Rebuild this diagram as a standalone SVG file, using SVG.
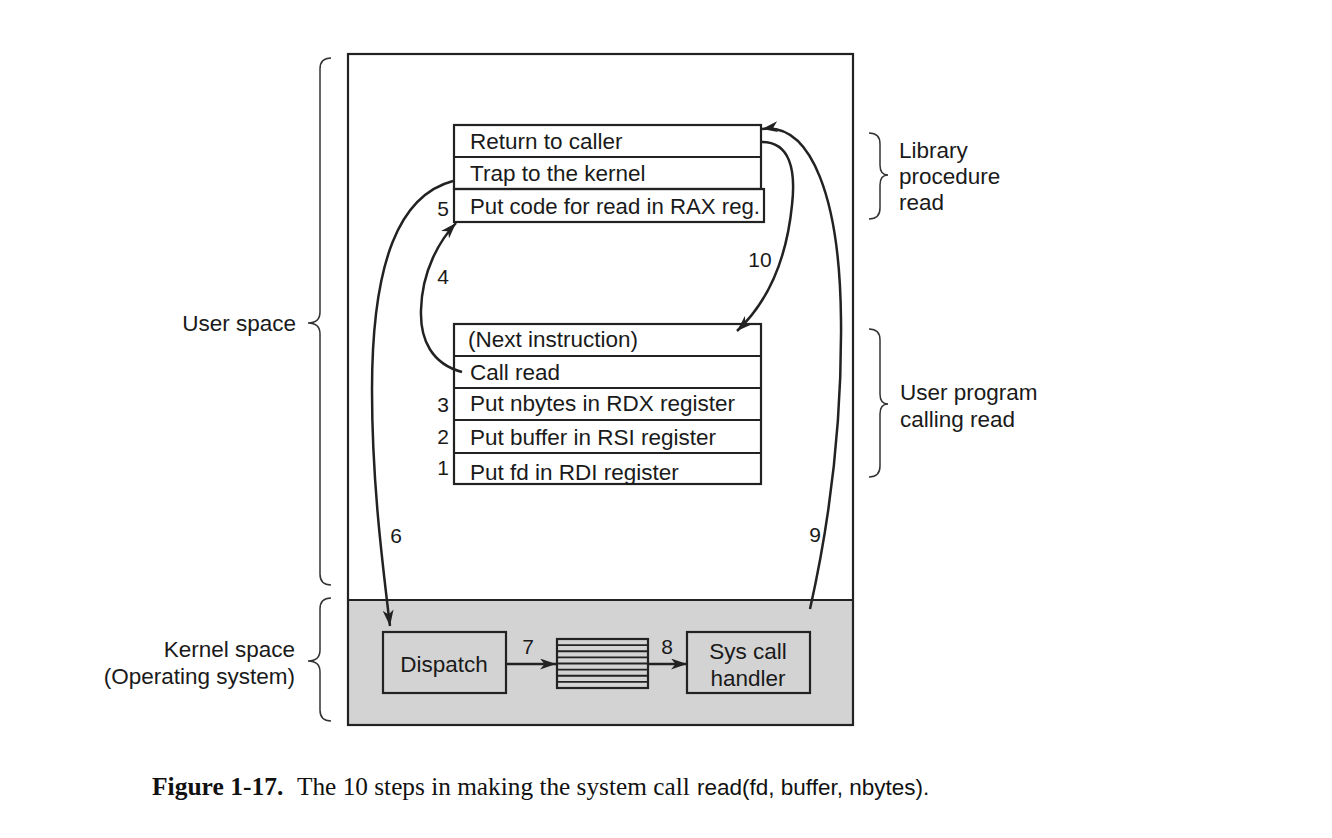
<svg xmlns="http://www.w3.org/2000/svg" width="1332" height="838" viewBox="0 0 1332 838">
<style>
.box{fill:none;stroke:#222;stroke-width:2.2}
.ln{fill:none;stroke:#222;stroke-width:2.5}
.br{fill:none;stroke:#333;stroke-width:1.5}
.t{font-family:"Liberation Sans",Arial,sans-serif;font-size:22.5px;fill:#1a1a1a}
.n{font-family:"Liberation Sans",Arial,sans-serif;font-size:21px;fill:#1a1a1a}
.m{text-anchor:middle}
.e{text-anchor:end}
</style>
<defs>
<marker id="ah" markerUnits="userSpaceOnUse" markerWidth="17" markerHeight="11" refX="16" refY="5.5" orient="auto">
<path d="M0,0 L16,5.5 L0,11 L4.5,5.5 z" fill="#222"/>
</marker>
</defs>
<rect width="1332" height="838" fill="#fff"/>
<g id="outer">
<rect x="348" y="600" width="505" height="125" fill="#d3d3d3"/>
<rect x="348" y="54" width="505" height="671" class="box"/>
<line x1="348" y1="600" x2="853" y2="600" stroke="#222" stroke-width="2.2"/>
</g>
<g id="library">
<rect x="454" y="125" width="307" height="64" fill="#fff" class="box"/>
<rect x="454" y="189" width="310" height="33" fill="#fff" class="box"/>
<line x1="454" y1="157" x2="761" y2="157" stroke="#222" stroke-width="2.2"/>
<text class="t" x="470" y="149">Return to caller</text>
<text class="t" x="470" y="181">Trap to the kernel</text>
<text class="t" x="470" y="214" textLength="290" lengthAdjust="spacingAndGlyphs">Put code for read in RAX reg.</text>
</g>
<g id="userprog">
<rect x="454" y="324" width="307" height="160" fill="#fff" class="box"/>
<line x1="454" y1="356" x2="761" y2="356" stroke="#222" stroke-width="2.2"/>
<line x1="454" y1="388" x2="761" y2="388" stroke="#222" stroke-width="2.2"/>
<line x1="454" y1="420" x2="761" y2="420" stroke="#222" stroke-width="2.2"/>
<line x1="454" y1="453" x2="761" y2="453" stroke="#222" stroke-width="2.2"/>
<text class="t" x="468" y="347">(Next instruction)</text>
<text class="t" x="470" y="380">Call read</text>
<text class="t" x="470" y="411">Put nbytes in RDX register</text>
<text class="t" x="470" y="445">Put buffer in RSI register</text>
<text class="t" x="470" y="480">Put fd in RDI register</text>
</g>
<g id="dispatch">
<rect x="383" y="632" width="123" height="61" class="box"/>
<text class="t m" x="444" y="672">Dispatch</text>
</g>
<g id="table">
<rect x="557" y="639" width="91" height="49" class="box"/>
<g stroke="#222" stroke-width="1.9">
<line x1="557" y1="645.1" x2="648" y2="645.1"/>
<line x1="557" y1="651.2" x2="648" y2="651.2"/>
<line x1="557" y1="657.4" x2="648" y2="657.4"/>
<line x1="557" y1="663.5" x2="648" y2="663.5"/>
<line x1="557" y1="669.6" x2="648" y2="669.6"/>
<line x1="557" y1="675.8" x2="648" y2="675.8"/>
<line x1="557" y1="681.9" x2="648" y2="681.9"/>
</g>
</g>
<g id="handler">
<rect x="687" y="632" width="123" height="61" class="box"/>
<text class="t m" x="748" y="659">Sys call</text>
<text class="t m" x="748" y="686">handler</text>
</g>
<g id="connectors">
<path class="ln" d="M453,181 C400,195 372,260 372,390 C372,480 382,560 390,626" marker-end="url(#ah)"/>
<path class="ln" d="M462,372 C432,364 420,340 421,310 C422,270 440,240 456,223" marker-end="url(#ah)"/>
<path class="ln" d="M762,142 C790,142 796,170 792,205 C787,255 770,300 737,331" marker-end="url(#ah)"/>
<path class="ln" d="M810,609 C830,520 842,420 841,320 C840,200 812,122 762,129" marker-end="url(#ah)"/>
<line class="ln" x1="506" y1="664" x2="556" y2="664" marker-end="url(#ah)"/>
<line class="ln" x1="648" y1="664" x2="687" y2="664" marker-end="url(#ah)"/>
</g>
<g id="steps">
<text class="n m" x="443" y="216">5</text>
<text class="n m" x="443" y="284">4</text>
<text class="n m" x="443" y="412">3</text>
<text class="n m" x="443" y="444">2</text>
<text class="n m" x="443" y="475">1</text>
<text class="n m" x="760" y="267">10</text>
<text class="n m" x="396" y="543">6</text>
<text class="n m" x="815" y="542">9</text>
<text class="n m" x="528" y="654">7</text>
<text class="n m" x="667" y="654">8</text>
</g>
<g id="braces">
<path class="br" d="M331,58 Q320,58 320,69 L320,312 Q320,323 308,323 Q320,323 320,334 L320,574 Q320,585 331,585"/>
<path class="br" d="M331,598 Q320,598 320,609 L320,650 Q320,661 308,661 Q320,661 320,672 L320,710 Q320,721 331,721"/>
<path class="br" d="M869,133 Q880,133 880,144 L880,165 Q880,175 888,175 Q880,175 880,185 L880,208 Q880,219 869,219"/>
<path class="br" d="M869,329 Q880,329 880,340 L880,394 Q880,404 888,404 Q880,404 880,414 L880,466 Q880,477 869,477"/>
</g>
<g id="labels">
<text class="t e" x="296" y="331">User space</text>
<text class="t e" x="295" y="657">Kernel space</text>
<text class="t e" x="295" y="684">(Operating system)</text>
<text class="t" x="899" y="158">Library</text>
<text class="t" x="899" y="184">procedure</text>
<text class="t" x="899" y="210">read</text>
<text class="t" x="900" y="400">User program</text>
<text class="t" x="900" y="427">calling read</text>
</g>
<g id="caption">
<text x="152" y="795" font-family="'Liberation Serif','Times New Roman',serif" font-size="25.5" font-weight="bold" fill="#111">Figure 1-17.</text>
<text x="297" y="795" font-family="'Liberation Serif','Times New Roman',serif" font-size="25.3" fill="#111">The 10 steps in making the system call</text>
<text x="697" y="795" font-family="'Liberation Sans',Arial,sans-serif" font-size="22.5" fill="#111">read(fd, buffer, nbytes).</text>
</g>
</svg>
